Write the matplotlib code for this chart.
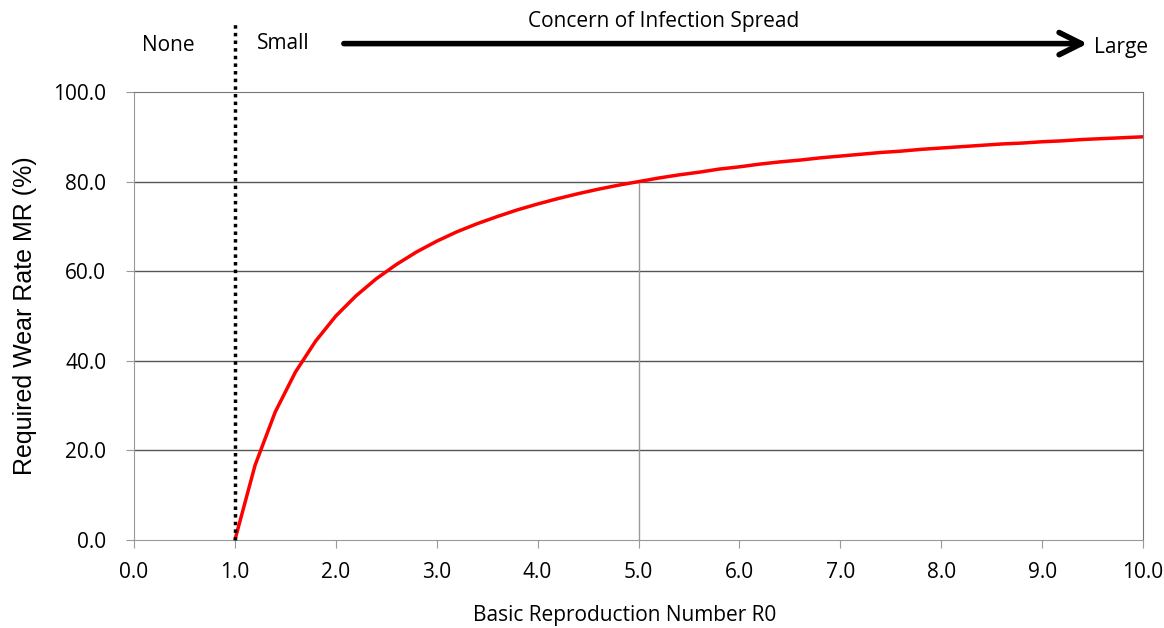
import matplotlib.pyplot as plt
import numpy as np

plt.rcParams['font.family'] = ['Open Sans', 'DejaVu Sans']

r0 = [1.0, 1.2, 1.4, 1.6, 1.8, 2.0, 2.2, 2.4, 2.6, 2.8, 3.0, 3.2, 3.4, 3.6, 3.8,
      4.0, 4.2, 4.4, 4.6, 4.8, 5.0, 5.2, 5.4, 5.6, 5.8, 6.0, 6.2, 6.4, 6.6, 6.8,
      7.0, 7.2, 7.4, 7.6, 7.8, 8.0, 8.2, 8.4, 8.6, 8.8, 9.0, 9.2, 9.4, 9.6, 9.8, 10.0]
mr = [0.0, 16.7, 28.6, 37.5, 44.4, 50.0, 54.5, 58.3, 61.5, 64.3, 66.7, 68.8, 70.6, 72.2, 73.7,
      75.0, 76.2, 77.3, 78.3, 79.2, 80.0, 80.8, 81.5, 82.1, 82.8, 83.3, 83.9, 84.4, 84.8, 85.3,
      85.7, 86.1, 86.5, 86.8, 87.2, 87.5, 87.8, 88.1, 88.4, 88.6, 88.9, 89.1, 89.4, 89.6, 89.8, 90.0]
xticks = np.arange(0, 10.1, 1.0)
yticks = np.arange(0, 100.1, 20.0)

fig = plt.figure(figsize=(11.64, 6.28), dpi=100)
ax = fig.add_axes([0.1151, 0.140, 0.8669, 0.7135])

ax.set_xlim(0, 10)
ax.set_ylim(0, 100)
ax.set_xticks(xticks)
ax.set_yticks(yticks)
ax.set_xticklabels(["{:.1f}".format(v) for v in xticks])
ax.set_yticklabels(["{:.1f}".format(v) for v in yticks])
ax.tick_params(labelsize=15, color='#999999', length=6)
ax.tick_params(axis='x', pad=10)
ax.tick_params(axis='y', pad=14)

for y in yticks[1:-1]:
    ax.axhline(y, color='#555555', lw=1.0, zorder=1)
for s in ax.spines.values():
    s.set_color('#999999')
ax.spines['top'].set_color('#777777')
ax.spines['right'].set_color('#777777')

# reference line at R0 = 5
ax.plot([5, 5], [0, 80], color='#999999', lw=1.0, zorder=1)

ax.plot(r0, mr, color='#ff0000', lw=2.5, zorder=3)

# R0 = 1 threshold
ax.plot([1, 1], [0, 115.8], color='black', lw=2.5, ls=(0, (1, 1.2)), clip_on=False, zorder=4)

ax.annotate('', xy=(9.45, 110.8), xytext=(2.08, 110.8),
            arrowprops=dict(arrowstyle='->,head_length=0.8,head_width=0.4', color='black',
                            lw=4, mutation_scale=20, shrinkA=0, shrinkB=0),
            annotation_clip=False)
ax.text(5.25, 115.8, 'Concern of Infection Spread', ha='center', va='center', fontsize=15)
ax.text(0.34, 110.3, 'None', ha='center', va='center', fontsize=15)
ax.text(1.48, 110.8, 'Small', ha='center', va='center', fontsize=15)
ax.text(9.78, 110.0, 'Large', ha='center', va='center', fontsize=15)

ax.set_xlabel('Basic Reproduction Number R0', fontsize=15)
ax.xaxis.set_label_coords(0.486, -0.146)
ax.set_ylabel('Required Wear Rate MR (%)', fontsize=18, labelpad=12, family=['Liberation Sans', 'DejaVu Sans'])

fig.savefig('out.png', dpi=100)
